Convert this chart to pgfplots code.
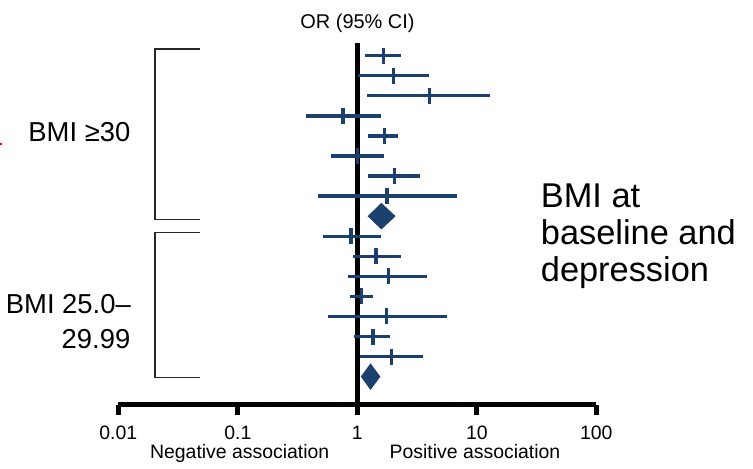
\documentclass[border=0pt]{standalone}
\usepackage{fontspec}
\setmainfont{Liberation Sans}
\usepackage{pgfplots}
\pgfplotsset{compat=1.18}
\definecolor{forest}{RGB}{28,64,110}
\begin{document}
\begin{tikzpicture}
\useasboundingbox (0bp,0bp) rectangle (753bp,-469bp);
\begin{axis}[
  at={(118.3bp,-404.5bp)}, anchor=south west,
  scale only axis, width=478bp, height=361.8bp,
  xmode=log, xmin=0.01, xmax=100,
  ymin=-17.39, ymax=0.65,
  axis x line*=bottom, axis y line=none,
  axis line style={line width=5bp},
  xtick={0.01,0.1,1,10,100},
  xticklabels={0.01,0.1,1,10,100},
  tick align=outside, major tick length=10bp,
  tick style={line width=5bp, black},
  xticklabel style={font=\fontsize{19.5}{20}\selectfont, anchor=base, inner sep=0pt, yshift=-24.8bp},
  /pgf/number format/assume math mode=true,
  clip=false,
  ci/.style={forest, line width=3.3bp},
]
% line of no effect
\addplot[black, line width=5.5bp] coordinates {(1,0.65) (1,-17.39)};

% confidence intervals, BMI >= 30
\addplot[ci] coordinates {(1.155,0) (2.30,0)};
\addplot[ci] coordinates {(1.02,-1) (3.98,-1)};
\addplot[ci] coordinates {(1.21,-2) (13.0,-2)};
\addplot[ci] coordinates {(0.371,-3) (1.58,-3)};
\addplot[ci] coordinates {(1.22,-4) (2.21,-4)};
\addplot[ci] coordinates {(0.604,-5) (1.68,-5)};
\addplot[ci] coordinates {(1.24,-6) (3.33,-6)};
\addplot[ci] coordinates {(0.465,-7) (6.83,-7)};
% confidence intervals, BMI 25.0-29.99
\addplot[ci] coordinates {(0.518,-9) (1.58,-9)};
\addplot[ci] coordinates {(0.92,-10) (2.30,-10)};
\addplot[ci] coordinates {(0.838,-11) (3.86,-11)};
\addplot[ci] coordinates {(0.861,-12) (1.355,-12)};
\addplot[ci] coordinates {(0.570,-13) (5.60,-13)};
\addplot[ci] coordinates {(0.94,-14) (1.86,-14)};
\addplot[ci] coordinates {(1.05,-15) (3.53,-15)};

% point estimates
\addplot[only marks, mark=|, mark size=8bp, forest, mark options={line width=3.3bp}]
  coordinates {
    (1.66,0) (2.02,-1) (4.02,-2) (0.761,-3) (1.68,-4) (1.00,-5) (2.05,-6) (1.77,-7)
    (0.888,-9) (1.43,-10) (1.83,-11) (1.08,-12) (1.75,-13) (1.355,-14) (1.92,-15)
  };

% pooled estimates
\addplot[fill=forest, draw=none] coordinates {(1.22,-8) (1.59,-7.337) (2.09,-8) (1.59,-8.663)};
\addplot[fill=forest, draw=none] coordinates {(1.07,-16) (1.29,-15.337) (1.56,-16) (1.29,-16.663)};
\end{axis}

% group brackets
\draw[black!85, line width=1.5bp] (200bp,-49bp) -- (155bp,-49bp) -- (155bp,-219.3bp) -- (200bp,-219.3bp);
\draw[black!85, line width=1.5bp] (200bp,-232.7bp) -- (155bp,-232.7bp) -- (155bp,-377.7bp) -- (200bp,-377.7bp);
\draw[red, line width=2bp] (0bp,-143.8bp) -- (2bp,-143.8bp);

\begin{scope}[every node/.style={inner sep=0pt}]
\node[anchor=base, font=\fontsize{20}{24}\selectfont] at (357.5bp,-28.3bp) {OR (95\% CI)};
\node[anchor=base east, font=\fontsize{27.5}{33}\selectfont] at (130.5bp,-141bp) {BMI ≥30};
\node[anchor=base east, font=\fontsize{27.5}{33}\selectfont] at (131bp,-313bp) {BMI 25.0–};
\node[anchor=base east, font=\fontsize{27.5}{33}\selectfont] at (130.5bp,-348bp) {29.99};
\node[anchor=base west, font=\fontsize{34.5}{40}\selectfont] at (540.7bp,-207.3bp) {BMI at};
\node[anchor=base west, font=\fontsize{34.5}{40}\selectfont] at (540.7bp,-244.3bp) {baseline and};
\node[anchor=base west, font=\fontsize{34.5}{40}\selectfont] at (540.7bp,-281.3bp) {depression};
\node[anchor=base, font=\fontsize{19.5}{24}\selectfont] at (239.7bp,-458.3bp) {Negative association};
\node[anchor=base, font=\fontsize{19.5}{24}\selectfont] at (475bp,-458.3bp) {Positive association};
\end{scope}
\end{tikzpicture}
\end{document}
